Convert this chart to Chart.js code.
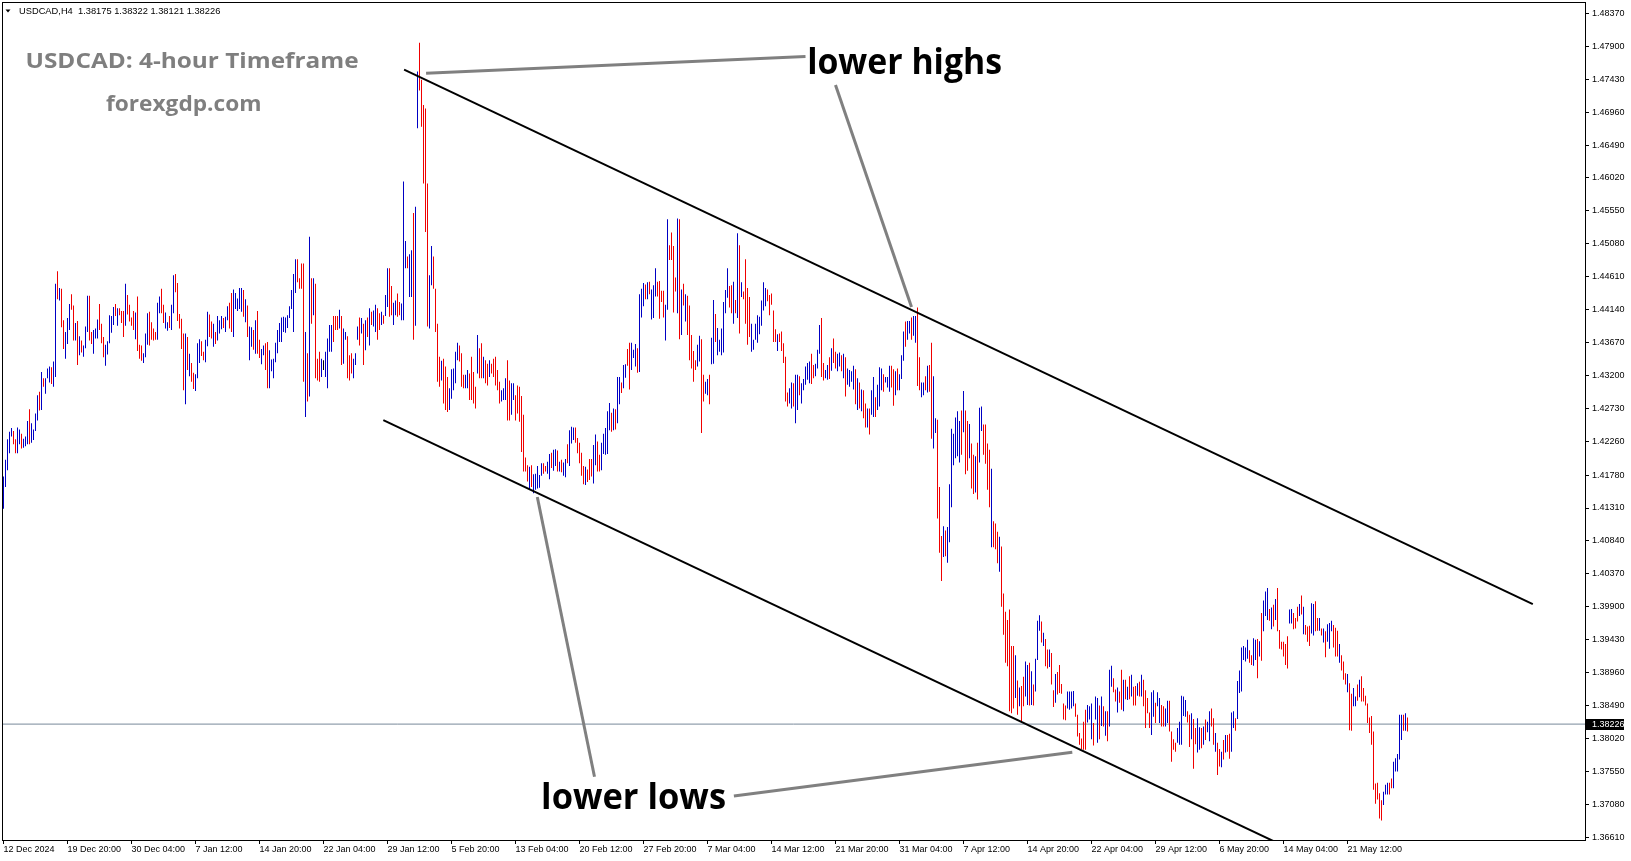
<!DOCTYPE html>
<html>
<head>
<meta charset="utf-8">
<title>USDCAD H4</title>
<script src="https://cdn.jsdelivr.net/npm/chart.js@4.4.1/dist/chart.umd.min.js"></script>
<style>
html,body{margin:0;padding:0;background:#ffffff;overflow:hidden;}
canvas{display:block;}
</style>
</head>
<body>
<canvas id="chart" width="1631" height="861"></canvas>
<script>
// ---------------- DATA ----------------
const symbol = 'USDCAD,H4';
const lastBar = [1.38175, 1.38322, 1.38121, 1.38226]; // open high low close
const xTickLabels = ['12 Dec 2024','19 Dec 20:00','30 Dec 04:00','7 Jan 12:00','14 Jan 20:00','22 Jan 04:00','29 Jan 12:00','5 Feb 20:00','13 Feb 04:00','20 Feb 12:00','27 Feb 20:00','7 Mar 04:00','14 Mar 12:00','21 Mar 20:00','31 Mar 04:00','7 Apr 12:00','14 Apr 20:00','22 Apr 04:00','29 Apr 12:00','6 May 20:00','14 May 04:00','21 May 12:00'];
const barsPerXTick = 32;
const yTickValues = [1.36610,1.37080,1.37550,1.38020,1.38490,1.38960,1.39430,1.39900,1.40370,1.40840,1.41310,1.41780,1.42260,1.42730,1.43200,1.43670,1.44140,1.44610,1.45080,1.45550,1.46020,1.46490,1.46960,1.47430,1.47900,1.48370];

// H4 bar highs / lows in 1/10000 units, direction: b = up, r = down, k = unchanged
const hi1 = [14176,14200,14229,14240,14245,14241,14229,14246,14243,14237,14230,14233,14255,14272,14252,14243,14266,14292,14297,14325,14316,14316,14330,14333,14332,14340,14451,14469,14445,14444,14399,14382,14402,14422,14436,14420,14395,14398,14376,14370,14363,14390,14434,14434,14382,14385,14387,14400,14422,14394,14375,14364,14369,14406,14405,14418,14422,14416,14416,14412,14412,14451,14435,14421,14403,14412,14410,14433,14364,14363,14352,14380,14409,14411,14396,14387,14382,14424,14433,14444,14421,14410,14396,14405,14421,14463,14465,14452,14408,14401,14380,14380,14375,14351,14338,14324,14322,14366,14372,14369];
const lo1 = [14130,14161,14185,14209,14233,14222,14209,14209,14222,14216,14217,14219,14222,14222,14224,14228,14241,14256,14270,14271,14304,14294,14316,14310,14308,14304,14318,14429,14427,14389,14358,14344,14365,14385,14414,14370,14370,14335,14349,14353,14347,14359,14382,14370,14365,14351,14373,14373,14385,14366,14346,14334,14350,14366,14381,14392,14405,14391,14406,14395,14375,14391,14407,14397,14391,14385,14372,14355,14344,14341,14338,14346,14364,14363,14371,14370,14371,14371,14409,14409,14395,14387,14384,14388,14385,14409,14439,14398,14387,14358,14299,14279,14328,14319,14311,14301,14298,14316,14338,14348];
const dir1 = 'bbbbbrrbbrbbbrbbbbrbrbbbrbbrbrrbbbrrbrbrbbbrrbbbrrrbbbbbrbrrrbrrrrbrrrbbbrrrrbbrrbbrbbrrrrrbrbrrbbbr';

const hi2 = [14354,14371,14411,14407,14397,14394,14382,14405,14399,14405,14402,14404,14419,14424,14438,14443,14438,14430,14445,14445,14442,14429,14420,14390,14389,14385,14399,14412,14371,14358,14363,14366,14368,14356,14343,14344,14367,14385,14395,14403,14404,14403,14406,14419,14442,14465,14486,14486,14459,14480,14480,14382,14352,14518,14459,14459,14451,14344,14354,14344,14342,14354,14373,14392,14392,14405,14405,14405,14414,14405,14387,14382,14376,14349,14352,14344,14352,14390,14403,14402,14394,14399,14403,14416,14411,14413,14421,14416,14409,14411,14406,14435,14473,14473,14448,14424,14427,14437,14425,14423];
const lo2 = [14342,14339,14362,14375,14373,14361,14365,14370,14380,14386,14388,14382,14399,14387,14382,14375,14415,14412,14415,14411,14404,14396,14375,14342,14361,14357,14351,14351,14345,14336,14349,14328,14302,14302,14326,14316,14339,14352,14368,14368,14382,14381,14388,14402,14415,14382,14438,14453,14444,14444,14311,14261,14283,14290,14394,14406,14316,14313,14311,14318,14328,14318,14302,14354,14354,14368,14385,14385,14387,14335,14337,14371,14316,14313,14323,14316,14335,14371,14363,14380,14335,14356,14375,14363,14392,14390,14382,14371,14385,14392,14394,14405,14418,14404,14406,14392,14406,14404,14406,14399];
const dir2 = 'rbbrrbrbbbrbbrrbbbbbrbrbbrbrrbbrrbbbbbbbbbbbbbbrrrrbrbrbrrrbkbbbbrrrbrbbrrrbbbrbrbrbrbbrrbrbbrrbbrrb';

const hi3 = [14597,14512,14490,14493,14499,14552,14561,14754,14795,14742,14706,14701,14594,14463,14505,14490,14444,14394,14347,14341,14344,14333,14318,14302,14329,14330,14354,14367,14363,14352,14321,14321,14328,14323,14347,14325,14304,14378,14359,14366,14347,14342,14337,14342,14337,14344,14347,14328,14311,14299,14302,14316,14342,14313,14309,14309,14292,14306,14304,14291,14264,14203,14192,14190,14192,14179,14180,14191,14178,14195,14195,14191,14197,14208,14210,14214,14215,14213,14197,14200,14196,14201,14222,14242,14247,14246,14246,14231,14224,14210,14191,14190,14186,14201,14201,14221,14236,14226,14207,14224];
const lo3 = [14399,14473,14473,14432,14432,14371,14391,14673,14727,14675,14594,14525,14390,14387,14449,14444,14382,14311,14304,14313,14280,14271,14268,14271,14287,14299,14309,14342,14340,14304,14302,14302,14302,14285,14285,14280,14273,14323,14316,14316,14316,14309,14306,14318,14323,14318,14306,14299,14280,14283,14285,14285,14256,14256,14264,14285,14256,14266,14254,14211,14183,14183,14169,14157,14161,14152,14157,14159,14160,14177,14180,14183,14180,14172,14188,14184,14191,14183,14183,14182,14177,14175,14195,14191,14223,14228,14224,14209,14195,14177,14165,14164,14168,14171,14176,14166,14192,14183,14183,14185];
const dir3 = 'bbrbbrbbrrrrrbbrrrrbrrrbbbbbrrrbbrrrrbrrbrrbrrrrrbbbrrbbrrrrrrrbrbbbbbrrbbrbbrbrbbrbbbrrrrrbrrrbbrrb';

const hi4 = [14237,14245,14269,14281,14267,14273,14272,14318,14318,14310,14335,14336,14358,14367,14367,14357,14365,14359,14436,14444,14452,14450,14453,14454,14443,14449,14473,14454,14455,14441,14441,14421,14543,14506,14524,14505,14460,14544,14543,14443,14451,14436,14434,14420,14378,14355,14342,14364,14377,14372,14321,14311,14315,14321,14374,14428,14408,14388,14371,14387,14425,14442,14473,14448,14449,14454,14428,14523,14506,14453,14440,14486,14445,14432,14394,14371,14394,14406,14404,14427,14453,14445,14443,14435,14437,14413,14386,14379,14380,14383,14366,14347,14296,14302,14310,14309,14321,14321,14319,14309];
const lo4 = [14208,14207,14208,14242,14240,14242,14243,14252,14279,14295,14302,14317,14334,14300,14328,14345,14333,14324,14325,14403,14419,14429,14429,14436,14400,14402,14433,14433,14401,14425,14403,14370,14414,14485,14485,14410,14440,14409,14372,14378,14420,14397,14378,14342,14330,14311,14328,14333,14340,14238,14283,14294,14292,14279,14336,14337,14368,14349,14354,14349,14353,14409,14431,14417,14409,14394,14409,14402,14380,14432,14429,14394,14364,14375,14354,14357,14371,14367,14379,14391,14413,14419,14426,14406,14421,14368,14368,14355,14368,14355,14338,14283,14276,14280,14273,14276,14252,14271,14292,14280];
const dir4 = 'bbbbrbrbbrbbrrbbbrbbbrbrbbbrrrrbbrrrrbrbrbrrrrrbbrrbbrbbrbbbbbbrrbrbrbrrrrbbbbbbbbrrrrrbrrrrrbbrbbrb';

const hi5 = [14315,14333,14338,14340,14351,14335,14337,14357,14392,14402,14338,14328,14335,14346,14359,14373,14354,14351,14353,14349,14351,14346,14330,14328,14326,14334,14329,14316,14310,14300,14299,14280,14273,14273,14299,14318,14289,14307,14332,14330,14322,14318,14318,14334,14334,14329,14326,14330,14322,14349,14383,14397,14398,14398,14403,14405,14405,14417,14346,14310,14310,14319,14334,14335,14367,14319,14259,14257,14161,14091,14105,14099,14104,14165,14244,14237,14260,14269,14255,14270,14298,14270,14255,14251,14223,14207,14205,14224,14274,14276,14250,14250,14223,14214,14187,14112,14109,14097,14090,14076];
const lo5 = [14299,14307,14314,14309,14308,14316,14319,14330,14351,14318,14313,14316,14314,14315,14327,14338,14330,14326,14333,14326,14316,14290,14307,14304,14311,14300,14279,14271,14273,14269,14259,14246,14246,14236,14264,14261,14261,14271,14276,14299,14297,14310,14303,14297,14303,14277,14292,14299,14299,14315,14341,14361,14371,14380,14371,14377,14367,14305,14299,14289,14292,14299,14296,14297,14230,14216,14238,14116,14067,14027,14061,14062,14053,14082,14132,14192,14202,14205,14196,14207,14239,14179,14184,14202,14159,14151,14153,14143,14196,14241,14207,14194,14157,14132,14075,14075,14072,14052,14040,13990];
const dir5 = 'bbbbrrbbbrrbbrbrrbbrbrbbbbrbrbrrbrbbrbbbrbbbrrbrbbbrbbrbbrrbbrbrrbbrrrbrbbbbbbbrbrrbrrbrbbrrrrbrrrbrr';

const hi6 = [14009,13983,13971,13986,13934,13934,13921,13885,13875,13877,13890,13912,13907,13910,13898,13879,13916,13970,13978,13969,13953,13944,13929,13929,13924,13871,13894,13897,13907,13880,13852,13849,13869,13869,13869,13870,13852,13836,13810,13802,13826,13843,13850,13848,13852,13824,13862,13860,13849,13862,13848,13841,13841,13900,13906,13888,13872,13875,13869,13900,13886,13886,13876,13891,13893,13876,13877,13881,13883,13893,13886,13871,13860,13839,13868,13871,13853,13868,13860,13850,13848,13845,13856,13856,13812,13801,13796,13817,13826,13863,13862,13857,13841,13836,13838,13830,13817,13831,13818,13817];
const lo6 = [13950,13910,13905,13841,13838,13845,13860,13836,13848,13826,13848,13862,13850,13849,13850,13849,13869,13914,13956,13939,13934,13905,13902,13904,13879,13847,13853,13865,13867,13866,13829,13828,13845,13843,13845,13848,13833,13805,13793,13787,13786,13786,13825,13829,13801,13792,13829,13796,13801,13820,13819,13806,13798,13819,13876,13868,13855,13839,13853,13843,13841,13858,13857,13858,13862,13849,13849,13863,13862,13862,13848,13817,13838,13817,13807,13833,13824,13848,13824,13819,13819,13819,13824,13812,13769,13786,13783,13796,13793,13793,13834,13833,13825,13790,13801,13759,13794,13782,13786,13788];
const dir6 = 'rrrrrbrbrrbbrbrbbbrbrrbrrbrrrrrbbbbrrrrrrbbbrbbrbrbrbbrrbrrbrbrbrrbrbrrrrbbrbbrrbbrrrrbbbbbrrbrrbbrb';

const hi7 = [13819,13829,13826,13841,13845,13831,13810,13796,13787,13783,13800,13807,13807,13809,13839,13841,13831,13884,13899,13932,13934,13932,13943,13928,13921,13945,13943,13944,13941,13981,13999,14012,14017,13987,13989,13993,14001,14017,13957,13940,13940,13937,13948,13986,13987,13981,13974,13990,13994,14006,13990,13964,13962,13963,13995,13994,13998,13974,13974,13959,13959,13955,13965,13967,13970,13964,13960,13956,13937,13921,13912,13895,13894,13881,13866,13874,13862,13879,13886,13891,13874,13863,13852,13832,13834,13812,13738,13739,13724,13714,13726,13736,13739,13739,13745,13769,13774,13780,13836,13836,13836,13838,13832];
const lo7 = [13793,13800,13811,13798,13819,13793,13783,13750,13762,13761,13772,13782,13783,13773,13783,13817,13813,13830,13867,13869,13914,13912,13916,13910,13907,13906,13914,13888,13919,13913,13955,13977,13971,13970,13958,13962,13971,13955,13930,13929,13919,13907,13902,13966,13966,13958,13959,13969,13977,13979,13951,13950,13940,13934,13952,13949,13955,13956,13956,13949,13939,13918,13940,13930,13955,13932,13919,13919,13910,13899,13886,13879,13868,13814,13813,13848,13848,13856,13861,13855,13855,13849,13824,13810,13793,13729,13709,13715,13688,13685,13707,13722,13722,13722,13731,13731,13755,13755,13772,13800,13813,13813,13812];
const dir7 = 'rbbrrbrrbrbrrbbrbbbbbbrrbbrbrbbbrbrbrrrrrrbbrrrbrbrrrbbrrbrbrbbbrrrbrrrbrrbbrbrrrrrrrrrrrbbbrrbbbbbrbrb';

// annotation lines: [bar index, price]
const upperChannel = [[200.3, 1.47565], [764.65, 1.39937]];
const lowerChannel = [[189.9, 1.42564], [680, 1.35949]];
const highsPointerA = [[401, 1.47752], [211.3, 1.47514]];
const highsPointerB = [[416, 1.47347], [454, 1.44179]];
const lowsPointerA = [[295.5, 1.37474], [266.9, 1.41466]];
const lowsPointerB = [[365.2, 1.37200], [534.4, 1.37823]];

// ---------------- BUILD ----------------
const highs = [...hi1, ...hi2, ...hi3, ...hi4, ...hi5, ...hi6, ...hi7].map(v => v / 10000);
const lows = [...lo1, ...lo2, ...lo3, ...lo4, ...lo5, ...lo6, ...lo7].map(v => v / 10000);
const dirs = (dir1 + dir2 + dir3 + dir4 + dir5 + dir6 + dir7).split('');
const UP = '#0000c4', DOWN = '#f00000', FLAT = '#000000';
const barData = highs.map((h, i) => ({ x: i, y: [lows[i], h] }));
const barColors = dirs.map(d => d === 'b' ? UP : (d === 'r' ? DOWN : FLAT));
const pts = arr => arr.map(p => ({ x: p[0], y: p[1] }));

const Y_MIN = 1.36572, Y_MAX = 1.48517;
const X_MIN = -0.75, X_MAX = 790.75;
const TICK_FONT = { family: '"Liberation Sans", Arial, sans-serif', size: 9 };

function fitText(ctx, t) {
  ctx.save();
  ctx.font = `${t.weight} 100px ${t.family}`;
  let m = ctx.measureText(t.text);
  const size = 100 * t.ascent / m.actualBoundingBoxAscent;
  ctx.font = `${t.weight} ${size}px ${t.family}`;
  m = ctx.measureText(t.text);
  const ink = m.actualBoundingBoxLeft + m.actualBoundingBoxRight;
  const sx = t.width / ink;
  ctx.translate(t.x, t.base);
  ctx.scale(sx, 1);
  ctx.fillStyle = t.color;
  ctx.textBaseline = 'alphabetic';
  ctx.textAlign = 'left';
  ctx.fillText(t.text, m.actualBoundingBoxLeft, 0);
  ctx.restore();
}

const overlay = {
  id: 'overlay',
  afterDraw(chart) {
    const { ctx, chartArea: a, scales } = chart;
    ctx.save();
    // frame
    ctx.strokeStyle = '#000';
    ctx.lineWidth = 1;
    ctx.strokeRect(a.left + 0.5, a.top - 0.5, a.right - a.left, a.bottom - a.top + 1);
    // current price tag
    const yp = scales.y.getPixelForValue(lastBar[3]);
    ctx.fillStyle = '#000';
    ctx.fillRect(a.right + 1, Math.round(yp) - 5, 38, 11);
    ctx.fillStyle = '#fff';
    ctx.font = `9px ${TICK_FONT.family}`;
    ctx.textBaseline = 'middle';
    ctx.textAlign = 'left';
    ctx.fillText(lastBar[3].toFixed(5), a.right + 7, Math.round(yp) + 0.5);
    // header triangle
    ctx.fillStyle = '#000';
    ctx.beginPath();
    ctx.moveTo(5.5, 9.5); ctx.lineTo(10.5, 9.5); ctx.lineTo(8, 12.5); ctx.closePath(); ctx.fill();
    ctx.restore();

    const sans = '"Liberation Sans", Arial, sans-serif';
    const open = '"Open Sans", "Noto Sans", sans-serif';
    fitText(ctx, { text: symbol + '  ' + lastBar.map(v => v.toFixed(5)).join(' '), x: 19, base: 14, width: 201, ascent: 6.8, family: sans, weight: 'normal', color: '#000' });
    fitText(ctx, { text: 'USDCAD: 4-hour Timeframe', x: 26.7, base: 68.3, width: 331.6, ascent: 16, family: open, weight: 'bold', color: '#7f7f7f' });
    fitText(ctx, { text: 'forexgdp.com', x: 106, base: 111, width: 154, ascent: 16, family: open, weight: 'bold', color: '#7f7f7f' });
    fitText(ctx, { text: 'lower highs', x: 809, base: 73.5, width: 192, ascent: 28, family: open, weight: 'bold', color: '#000' });
    fitText(ctx, { text: 'lower lows', x: 543, base: 808.5, width: 182, ascent: 28, family: open, weight: 'bold', color: '#000' });
  }
};

const lineDs = (data, color, width, order) => ({
  type: 'line', data: pts(data), borderColor: color, borderWidth: width,
  pointRadius: 0, pointHoverRadius: 0, tension: 0, fill: false, order, clip: 0, borderCapStyle: 'butt'
});

const noPad = s => { s.paddingTop = 0; s.paddingBottom = 0; s.paddingLeft = 0; s.paddingRight = 0; };

new Chart(document.getElementById('chart').getContext('2d'), {
  type: 'bar',
  data: {
    datasets: [
      lineDs([[-2, lastBar[3]], [792, lastBar[3]]], '#778899', 1, 5),
      {
        type: 'bar', data: barData, backgroundColor: barColors, borderWidth: 0,
        barThickness: 1, inflateAmount: 0, order: 4, clip: 0
      },
      lineDs(upperChannel, '#000000', 2, 2),
      lineDs(lowerChannel, '#000000', 2, 2),
      lineDs(highsPointerA, '#808080', 3, 1),
      lineDs(highsPointerB, '#808080', 3, 1),
      lineDs(lowsPointerA, '#808080', 3, 1),
      lineDs(lowsPointerB, '#808080', 3, 1)
    ]
  },
  options: {
    responsive: false,
    maintainAspectRatio: false,
    animation: false,
    devicePixelRatio: 1,
    events: [],
    layout: { padding: { left: 2, top: 3, right: 0, bottom: 0 } },
    plugins: { legend: { display: false }, tooltip: { enabled: false }, title: { display: false } },
    scales: {
      x: {
        type: 'linear', min: X_MIN, max: X_MAX, bounds: 'data', offset: false, position: 'bottom',
        grid: { display: true, offset: false, drawOnChartArea: false, drawTicks: true, tickLength: 4, tickColor: '#000', tickWidth: 1 },
        border: { display: false },
        afterBuildTicks: s => { s.ticks = xTickLabels.map((_, k) => ({ value: k * barsPerXTick })); },
        afterFit: s => { s.height = 21; noPad(s); },
        ticks: {
          autoSkip: false, maxRotation: 0, minRotation: 0, align: 'start', padding: 0,
          color: '#000', font: TICK_FONT,
          callback: v => xTickLabels[Math.round(v / barsPerXTick)]
        }
      },
      y: {
        type: 'linear', min: Y_MIN, max: Y_MAX, bounds: 'data', position: 'right',
        grid: { display: true, drawOnChartArea: false, drawTicks: true, tickLength: 4, tickColor: '#000', tickWidth: 1 },
        border: { display: false },
        afterBuildTicks: s => { s.ticks = yTickValues.map(v => ({ value: v })); },
        afterFit: s => { s.width = 46; noPad(s); },
        ticks: {
          autoSkip: false, padding: 3, color: '#000', font: TICK_FONT,
          callback: v => Number(v).toFixed(5)
        }
      }
    }
  },
  plugins: [overlay]
});
</script>
</body>
</html>
